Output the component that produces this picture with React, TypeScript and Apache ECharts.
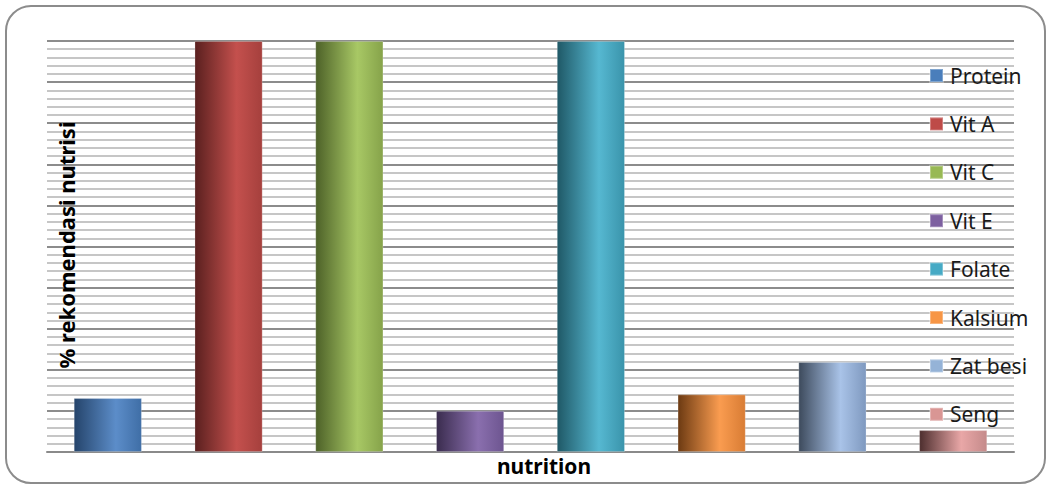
import React, { useEffect, useRef } from "react";
import * as echarts from "echarts";

const categories = ["nutrition"];
const seriesNames = ["Protein", "Vit A", "Vit C", "Vit E", "Folate", "Kalsium", "Zat besi", "Seng"];
const seriesValues = [13.1, 100, 100, 10.0, 100, 14.0, 21.9, 5.3];
const legendColors = ["#4a7ebb", "#be4b48", "#98b954", "#7d60a0", "#46aac5", "#f79646", "#95b3d7", "#d99694"];
const darkColors = ["#25446b", "#5a201f", "#4d6128", "#3a2c4e", "#1f5866", "#6c3a12", "#3d4a5c", "#4d2e2e"];
const lightColors = ["#5c8dc9", "#c4504d", "#a8c865", "#8a6fae", "#56b8d1", "#fa9c50", "#a9c3e8", "#e9a7a7"];
const rightColors = ["#3f6ea6", "#a5403d", "#86a34a", "#6d5590", "#3a94ab", "#d87c34", "#7f99bf", "#c48a8a"];
const yMin = 0;
const yMax = 100;
const yInterval = 10;

export default function App() {
  const ref = useRef<HTMLDivElement>(null);
  useEffect(() => {
    if (!ref.current) return;
    const chart = echarts.init(ref.current, null, { renderer: "svg" });
    const series = seriesNames.map((name, i) => ({
      name,
      type: "bar",
      data: [seriesValues[i]],
      barWidth: 68,
      barGap: "77.6%",
      itemStyle: {
        color: new echarts.graphic.LinearGradient(0, 0, 1, 0, [
          { offset: 0, color: darkColors[i] },
          { offset: 0.62, color: lightColors[i] },
          { offset: 1, color: rightColors[i] },
        ]),
        borderColor: "rgba(255,255,255,0.3)",
        borderWidth: 0.8,
      },
    }));
    chart.setOption({
      animation: false,
      backgroundColor: "#ffffff",
      color: legendColors,
      grid: { left: 47, right: 33, top: 41, bottom: 33, containLabel: false },
      legend: {
        orient: "vertical",
        left: 929,
        top: 65,
        padding: 0,
        itemWidth: 13,
        itemHeight: 13,
        itemGap: 27.4,
        icon: "rect",
        data: seriesNames.map((n, i) => ({ name: n, itemStyle: { color: legendColors[i] } })),
        textStyle: {
          fontFamily: "Noto Sans",
          fontSize: 21,
          color: "#1a1a1a",
          lineHeight: 20,
          padding: [0, 0, 0, 2],
        },
      },
      xAxis: {
        type: "category",
        data: categories,
        axisLabel: { show: false },
        axisTick: { show: false },
        axisLine: { show: true, lineStyle: { color: "#8a8a8a", width: 2 } },
      },
      yAxis: {
        type: "value",
        min: yMin,
        max: yMax,
        interval: yInterval,
        axisLabel: { show: false },
        axisTick: { show: false },
        axisLine: { show: false },
        splitLine: { show: true, lineStyle: { color: "#8c8c8c", width: 2 } },
        minorTick: { show: false, splitNumber: 5 },
        minorSplitLine: { show: true, lineStyle: { color: "#c6c6c6", width: 2 } },
      },
      graphic: [
        {
          type: "rect",
          shape: { x: 6, y: 6, width: 1039, height: 477, r: 25 },
          style: { fill: "none", stroke: "#8c8c8c", lineWidth: 2 },
          z: 100,
        },
        {
          type: "text",
          x: 66,
          y: 245,
          rotation: Math.PI / 2,
          style: {
            text: "% rekomendasi nutrisi",
            fontFamily: "Noto Sans",
            fontWeight: "bold",
            fontSize: 22,
            fill: "#000000",
            align: "center",
            verticalAlign: "middle",
          },
          z: 100,
        },
        {
          type: "text",
          x: 544,
          y: 466,
          style: {
            text: "nutrition",
            fontFamily: "Noto Sans",
            fontWeight: "bold",
            fontSize: 21,
            fill: "#000000",
            align: "center",
            verticalAlign: "middle",
          },
          z: 100,
        },
      ],
      series,
    });
    return () => chart.dispose();
  }, []);
  return (
    <div
      ref={ref}
      style={{ position: "absolute", left: 0, top: 0, width: 1047, height: 485 }}
    />
  );
}
